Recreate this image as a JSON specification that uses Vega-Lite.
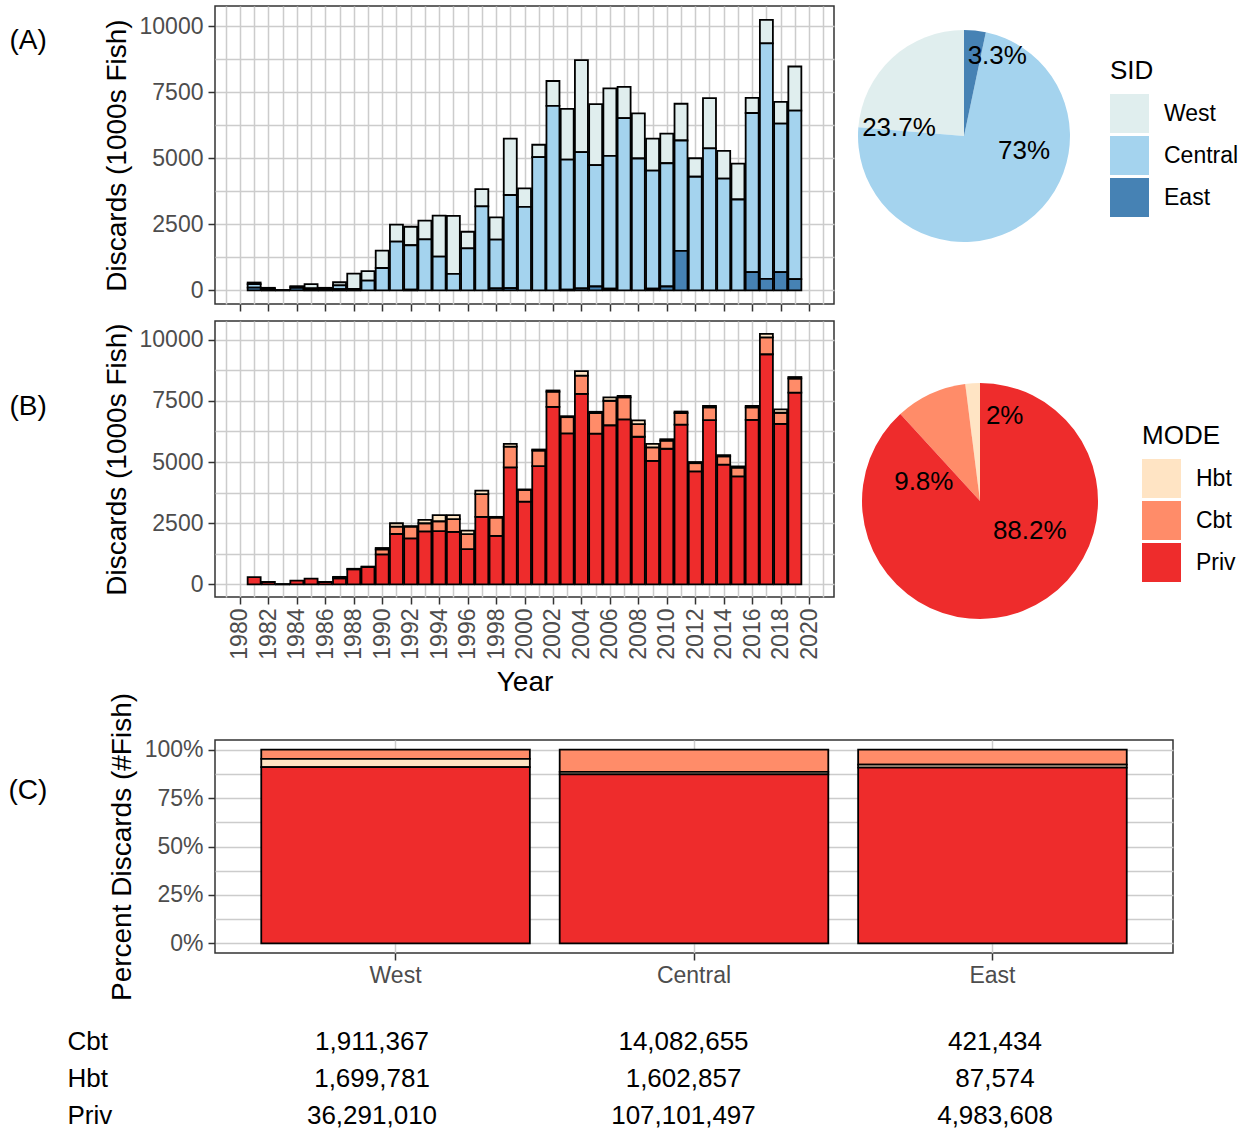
{
  "$schema": "https://vega.github.io/schema/vega-lite/v6.json",
  "background": "white",
  "padding": {"left": 7, "top": 5, "right": 0, "bottom": 0},
  "config": {
    "font": "Liberation Sans",
    "view": {"stroke": "#333333", "strokeWidth": 1.5},
    "axis": {"labelFontSize": 23, "labelColor": "#4d4d4d", "titleFontSize": 28, "titleFontWeight": "normal", "titleColor": "black", "tickColor": "#333333", "tickSize": 7, "tickWidth": 1.5, "domain": false, "gridColor": "#cccccc", "gridWidth": 1.5},
    "legend": {"titleFontSize": 26, "titleFontWeight": "normal", "titleColor": "black", "labelFontSize": 23, "labelColor": "black", "symbolType": "square", "symbolSize": 1521, "symbolStrokeWidth": 0, "rowPadding": 3, "labelOffset": 15, "titlePadding": 10, "padding": 0, "symbolOpacity": 1},
    "title": {"fontSize": 28, "fontWeight": "normal", "color": "black"}
  },
  "datasets": {
    "sid": [
      {"Year":1981,"SID":"West","Discards":60},{"Year":1981,"SID":"Central","Discards":130},{"Year":1981,"SID":"East","Discards":110},
      {"Year":1982,"SID":"West","Discards":30},{"Year":1982,"SID":"Central","Discards":40},{"Year":1982,"SID":"East","Discards":30},
      {"Year":1983,"SID":"Central","Discards":20},
      {"Year":1984,"SID":"West","Discards":20},{"Year":1984,"SID":"Central","Discards":40},{"Year":1984,"SID":"East","Discards":100},
      {"Year":1985,"SID":"West","Discards":160},{"Year":1985,"SID":"Central","Discards":50},{"Year":1985,"SID":"East","Discards":30},
      {"Year":1986,"SID":"West","Discards":40},{"Year":1986,"SID":"Central","Discards":40},{"Year":1986,"SID":"East","Discards":20},
      {"Year":1987,"SID":"West","Discards":120},{"Year":1987,"SID":"Central","Discards":140},{"Year":1987,"SID":"East","Discards":50},
      {"Year":1988,"SID":"West","Discards":580},{"Year":1988,"SID":"Central","Discards":60},
      {"Year":1989,"SID":"West","Discards":360},{"Year":1989,"SID":"Central","Discards":370},
      {"Year":1990,"SID":"West","Discards":660},{"Year":1990,"SID":"Central","Discards":850},
      {"Year":1991,"SID":"West","Discards":640},{"Year":1991,"SID":"Central","Discards":1850},
      {"Year":1992,"SID":"West","Discards":700},{"Year":1992,"SID":"Central","Discards":1680},{"Year":1992,"SID":"East","Discards":30},
      {"Year":1993,"SID":"West","Discards":710},{"Year":1993,"SID":"Central","Discards":1930},
      {"Year":1994,"SID":"West","Discards":1550},{"Year":1994,"SID":"Central","Discards":1280},
      {"Year":1995,"SID":"West","Discards":2190},{"Year":1995,"SID":"Central","Discards":630},
      {"Year":1996,"SID":"West","Discards":630},{"Year":1996,"SID":"Central","Discards":1590},
      {"Year":1997,"SID":"West","Discards":650},{"Year":1997,"SID":"Central","Discards":3180},
      {"Year":1998,"SID":"West","Discards":840},{"Year":1998,"SID":"Central","Discards":1840},{"Year":1998,"SID":"East","Discards":80},
      {"Year":1999,"SID":"West","Discards":2130},{"Year":1999,"SID":"Central","Discards":3520},{"Year":1999,"SID":"East","Discards":90},
      {"Year":2000,"SID":"West","Discards":700},{"Year":2000,"SID":"Central","Discards":3160},
      {"Year":2001,"SID":"West","Discards":470},{"Year":2001,"SID":"Central","Discards":5040},
      {"Year":2002,"SID":"West","Discards":940},{"Year":2002,"SID":"Central","Discards":6980},
      {"Year":2003,"SID":"West","Discards":1920},{"Year":2003,"SID":"Central","Discards":4920},{"Year":2003,"SID":"East","Discards":30},
      {"Year":2004,"SID":"West","Discards":3480},{"Year":2004,"SID":"Central","Discards":5150},{"Year":2004,"SID":"East","Discards":80},
      {"Year":2005,"SID":"West","Discards":2310},{"Year":2005,"SID":"Central","Discards":4590},{"Year":2005,"SID":"East","Discards":150},
      {"Year":2006,"SID":"West","Discards":2550},{"Year":2006,"SID":"Central","Discards":5020},{"Year":2006,"SID":"East","Discards":70},
      {"Year":2007,"SID":"West","Discards":1180},{"Year":2007,"SID":"Central","Discards":6520},
      {"Year":2008,"SID":"West","Discards":1710},{"Year":2008,"SID":"Central","Discards":4990},
      {"Year":2009,"SID":"West","Discards":1210},{"Year":2009,"SID":"Central","Discards":4460},{"Year":2009,"SID":"East","Discards":70},
      {"Year":2010,"SID":"West","Discards":1120},{"Year":2010,"SID":"Central","Discards":4660},{"Year":2010,"SID":"East","Discards":150},
      {"Year":2011,"SID":"West","Discards":1390},{"Year":2011,"SID":"Central","Discards":4170},{"Year":2011,"SID":"East","Discards":1500},
      {"Year":2012,"SID":"West","Discards":700},{"Year":2012,"SID":"Central","Discards":4300},
      {"Year":2013,"SID":"West","Discards":1900},{"Year":2013,"SID":"Central","Discards":5370},
      {"Year":2014,"SID":"West","Discards":1050},{"Year":2014,"SID":"Central","Discards":4230},
      {"Year":2015,"SID":"West","Discards":1360},{"Year":2015,"SID":"Central","Discards":3440},
      {"Year":2016,"SID":"West","Discards":570},{"Year":2016,"SID":"Central","Discards":6020},{"Year":2016,"SID":"East","Discards":690},
      {"Year":2017,"SID":"West","Discards":890},{"Year":2017,"SID":"Central","Discards":8900},{"Year":2017,"SID":"East","Discards":440},
      {"Year":2018,"SID":"West","Discards":820},{"Year":2018,"SID":"Central","Discards":5620},{"Year":2018,"SID":"East","Discards":690},
      {"Year":2019,"SID":"West","Discards":1670},{"Year":2019,"SID":"Central","Discards":6370},{"Year":2019,"SID":"East","Discards":430}
    ],
    "mode": [
      {"Year":1981,"MODE":"Priv","Discards":300},
      {"Year":1982,"MODE":"Priv","Discards":100},
      {"Year":1983,"MODE":"Priv","Discards":20},
      {"Year":1984,"MODE":"Priv","Discards":160},
      {"Year":1985,"MODE":"Priv","Discards":240},
      {"Year":1986,"MODE":"Priv","Discards":100},
      {"Year":1987,"MODE":"Priv","Discards":250},{"Year":1987,"MODE":"Cbt","Discards":30},{"Year":1987,"MODE":"Hbt","Discards":30},
      {"Year":1988,"MODE":"Priv","Discards":620},{"Year":1988,"MODE":"Cbt","Discards":20},
      {"Year":1989,"MODE":"Priv","Discards":710},{"Year":1989,"MODE":"Cbt","Discards":20},
      {"Year":1990,"MODE":"Priv","Discards":1230},{"Year":1990,"MODE":"Cbt","Discards":200},{"Year":1990,"MODE":"Hbt","Discards":60},
      {"Year":1991,"MODE":"Priv","Discards":2060},{"Year":1991,"MODE":"Cbt","Discards":300},{"Year":1991,"MODE":"Hbt","Discards":140},
      {"Year":1992,"MODE":"Priv","Discards":1880},{"Year":1992,"MODE":"Cbt","Discards":480},{"Year":1992,"MODE":"Hbt","Discards":20},
      {"Year":1993,"MODE":"Priv","Discards":2170},{"Year":1993,"MODE":"Cbt","Discards":330},{"Year":1993,"MODE":"Hbt","Discards":140},
      {"Year":1994,"MODE":"Priv","Discards":2180},{"Year":1994,"MODE":"Cbt","Discards":400},{"Year":1994,"MODE":"Hbt","Discards":250},
      {"Year":1995,"MODE":"Priv","Discards":2150},{"Year":1995,"MODE":"Cbt","Discards":520},{"Year":1995,"MODE":"Hbt","Discards":160},
      {"Year":1996,"MODE":"Priv","Discards":1440},{"Year":1996,"MODE":"Cbt","Discards":615},{"Year":1996,"MODE":"Hbt","Discards":140},
      {"Year":1997,"MODE":"Priv","Discards":2760},{"Year":1997,"MODE":"Cbt","Discards":930},{"Year":1997,"MODE":"Hbt","Discards":140},
      {"Year":1998,"MODE":"Priv","Discards":1980},{"Year":1998,"MODE":"Cbt","Discards":750},{"Year":1998,"MODE":"Hbt","Discards":30},
      {"Year":1999,"MODE":"Priv","Discards":4780},{"Year":1999,"MODE":"Cbt","Discards":850},{"Year":1999,"MODE":"Hbt","Discards":110},
      {"Year":2000,"MODE":"Priv","Discards":3380},{"Year":2000,"MODE":"Cbt","Discards":480},{"Year":2000,"MODE":"Hbt","Discards":20},
      {"Year":2001,"MODE":"Priv","Discards":4830},{"Year":2001,"MODE":"Cbt","Discards":640},{"Year":2001,"MODE":"Hbt","Discards":40},
      {"Year":2002,"MODE":"Priv","Discards":7250},{"Year":2002,"MODE":"Cbt","Discards":620},{"Year":2002,"MODE":"Hbt","Discards":50},
      {"Year":2003,"MODE":"Priv","Discards":6170},{"Year":2003,"MODE":"Cbt","Discards":660},{"Year":2003,"MODE":"Hbt","Discards":40},
      {"Year":2004,"MODE":"Priv","Discards":7780},{"Year":2004,"MODE":"Cbt","Discards":750},{"Year":2004,"MODE":"Hbt","Discards":180},
      {"Year":2005,"MODE":"Priv","Discards":6160},{"Year":2005,"MODE":"Cbt","Discards":840},{"Year":2005,"MODE":"Hbt","Discards":50},
      {"Year":2006,"MODE":"Priv","Discards":6500},{"Year":2006,"MODE":"Cbt","Discards":1000},{"Year":2006,"MODE":"Hbt","Discards":140},
      {"Year":2007,"MODE":"Priv","Discards":6740},{"Year":2007,"MODE":"Cbt","Discards":900},{"Year":2007,"MODE":"Hbt","Discards":60},
      {"Year":2008,"MODE":"Priv","Discards":6030},{"Year":2008,"MODE":"Cbt","Discards":520},{"Year":2008,"MODE":"Hbt","Discards":150},
      {"Year":2009,"MODE":"Priv","Discards":5050},{"Year":2009,"MODE":"Cbt","Discards":550},{"Year":2009,"MODE":"Hbt","Discards":140},
      {"Year":2010,"MODE":"Priv","Discards":5540},{"Year":2010,"MODE":"Cbt","Discards":330},{"Year":2010,"MODE":"Hbt","Discards":60},
      {"Year":2011,"MODE":"Priv","Discards":6530},{"Year":2011,"MODE":"Cbt","Discards":470},{"Year":2011,"MODE":"Hbt","Discards":60},
      {"Year":2012,"MODE":"Priv","Discards":4620},{"Year":2012,"MODE":"Cbt","Discards":330},{"Year":2012,"MODE":"Hbt","Discards":50},
      {"Year":2013,"MODE":"Priv","Discards":6710},{"Year":2013,"MODE":"Cbt","Discards":520},{"Year":2013,"MODE":"Hbt","Discards":60},
      {"Year":2014,"MODE":"Priv","Discards":4890},{"Year":2014,"MODE":"Cbt","Discards":340},{"Year":2014,"MODE":"Hbt","Discards":50},
      {"Year":2015,"MODE":"Priv","Discards":4410},{"Year":2015,"MODE":"Cbt","Discards":360},{"Year":2015,"MODE":"Hbt","Discards":50},
      {"Year":2016,"MODE":"Priv","Discards":6720},{"Year":2016,"MODE":"Cbt","Discards":510},{"Year":2016,"MODE":"Hbt","Discards":60},
      {"Year":2017,"MODE":"Priv","Discards":9400},{"Year":2017,"MODE":"Cbt","Discards":690},{"Year":2017,"MODE":"Hbt","Discards":140},
      {"Year":2018,"MODE":"Priv","Discards":6560},{"Year":2018,"MODE":"Cbt","Discards":450},{"Year":2018,"MODE":"Hbt","Discards":140},
      {"Year":2019,"MODE":"Priv","Discards":7830},{"Year":2019,"MODE":"Cbt","Discards":580},{"Year":2019,"MODE":"Hbt","Discards":60}
    ],
    "pieSID": [
      {"SID":"West","share":0.237},{"SID":"Central","share":0.73},{"SID":"East","share":0.033}
    ],
    "pieMODE": [
      {"MODE":"Hbt","share":0.02},{"MODE":"Cbt","share":0.098},{"MODE":"Priv","share":0.882}
    ],
    "totals": [
      {"SID":"West","MODE":"Cbt","n":1911367},{"SID":"West","MODE":"Hbt","n":1699781},{"SID":"West","MODE":"Priv","n":36291010},
      {"SID":"Central","MODE":"Cbt","n":14082655},{"SID":"Central","MODE":"Hbt","n":1602857},{"SID":"Central","MODE":"Priv","n":107101497},
      {"SID":"East","MODE":"Cbt","n":421434},{"SID":"East","MODE":"Hbt","n":87574},{"SID":"East","MODE":"Priv","n":4983608}
    ]
  },
  "resolve": {"scale": {"color": "independent"}, "legend": {"color": "independent"}},
  "align": "none",
  "spacing": -6,
  "vconcat": [
    {
      "spacing": 7,
      "resolve": {"scale": {"color": "independent"}, "legend": {"color": "independent"}},
      "vconcat": [
        {
          "hconcat": [
            {
              "width": 619, "height": 298,
              "title": {"text": "(A)", "orient": "left", "anchor": "end", "angle": 0, "align": "right", "baseline": "top", "offset": 19, "dy": 21},
              "data": {"name": "sid"},
              "transform": [{"calculate": "indexof(['East','Central','West'], datum.SID)", "as": "ord"}],
              "mark": {"type": "bar", "width": 13, "stroke": "black", "strokeWidth": 1.8},
              "encoding": {
                "x": {"field": "Year", "type": "quantitative", "scale": {"domain": [1978.6, 2021.4], "nice": false, "zero": false},
                      "axis": {"title": null, "labels": false, "values": [1979,1980,1981,1982,1983,1984,1985,1986,1987,1988,1989,1990,1991,1992,1993,1994,1995,1996,1997,1998,1999,2000,2001,2002,2003,2004,2005,2006,2007,2008,2009,2010,2011,2012,2013,2014,2015,2016,2017,2018,2019,2020,2021],
                               "tickOpacity": {"condition": {"test": "datum.value % 2 === 0", "value": 1}, "value": 0}}},
                "y": {"field": "Discards", "type": "quantitative", "stack": "zero", "scale": {"domain": [-512, 10757], "nice": false, "zero": false},
                      "axis": {"title": "Discards (1000s Fish)", "titlePadding": 8, "labelPadding": 5, "format": "d", "values": [0,1250,2500,3750,5000,6250,7500,8750,10000],
                               "labelExpr": "datum.value % 2500 === 0 ? datum.label : ''",
                               "tickOpacity": {"condition": {"test": "datum.value % 2500 === 0", "value": 1}, "value": 0}}},
                "color": {"field": "SID", "type": "nominal", "scale": {"domain": ["West","Central","East"], "range": ["#E0EEEE","#A4D3EE","#4682B4"]}, "legend": null},
                "order": {"field": "ord", "type": "quantitative"}
              }
            },
            {
              "width": 212, "height": 260,
              "view": {"stroke": null},
              "data": {"name": "pieSID"},
              "transform": [{"calculate": "indexof(['East','Central','West'], datum.SID)", "as": "ord"}],
              "encoding": {
                "theta": {"field": "share", "type": "quantitative", "stack": true},
                "color": {"field": "SID", "type": "nominal", "scale": {"domain": ["West","Central","East"], "range": ["#E0EEEE","#A4D3EE","#4682B4"]},
                          "legend": {"title": "SID", "orient": "none", "legendX": 252, "legendY": 52}},
                "order": {"field": "ord", "type": "quantitative"}
              },
              "layer": [
                {"mark": {"type": "arc", "outerRadius": 106}},
                {"mark": {"type": "text", "radius": 80, "dx": 25, "dy": 0, "fontSize": 26},
                 "encoding": {"text": {"field": "share", "type": "quantitative", "format": ".3~%"}, "color": {"value": "black"},
                              "opacity": {"condition": {"test": "datum.SID === 'East'", "value": 1}, "value": 0}}},
                {"mark": {"type": "text", "radius": 62, "dx": 23, "dy": -35, "fontSize": 26},
                 "encoding": {"text": {"field": "share", "type": "quantitative", "format": ".3~%"}, "color": {"value": "black"},
                              "opacity": {"condition": {"test": "datum.SID === 'Central'", "value": 1}, "value": 0}}},
                {"mark": {"type": "text", "radius": 62, "dx": -23, "dy": 38, "fontSize": 26},
                 "encoding": {"text": {"field": "share", "type": "quantitative", "format": ".3~%"}, "color": {"value": "black"},
                              "opacity": {"condition": {"test": "datum.SID === 'West'", "value": 1}, "value": 0}}}
              ]
            }
          ],
          "spacing": 24,
          "bounds": "flush",
          "resolve": {"scale": {"color": "independent"}, "legend": {"color": "independent"}}
        },
        {
          "hconcat": [
            {
              "width": 619, "height": 276,
              "title": {"text": "(B)", "orient": "left", "anchor": "end", "angle": 0, "align": "right", "baseline": "top", "offset": 19, "dy": 72},
              "data": {"name": "mode"},
              "transform": [{"calculate": "indexof(['Priv','Cbt','Hbt'], datum.MODE)", "as": "ord"}],
              "mark": {"type": "bar", "width": 13, "stroke": "black", "strokeWidth": 1.8},
              "encoding": {
                "x": {"field": "Year", "type": "quantitative", "scale": {"domain": [1978.6, 2021.4], "nice": false, "zero": false},
                      "axis": {"title": "Year", "titlePadding": 9, "labelAngle": 270, "labelPadding": 4, "format": "d", "values": [1979,1980,1981,1982,1983,1984,1985,1986,1987,1988,1989,1990,1991,1992,1993,1994,1995,1996,1997,1998,1999,2000,2001,2002,2003,2004,2005,2006,2007,2008,2009,2010,2011,2012,2013,2014,2015,2016,2017,2018,2019,2020,2021],
                               "labelExpr": "datum.value % 2 === 0 ? datum.label : ''",
                               "tickOpacity": {"condition": {"test": "datum.value % 2 === 0", "value": 1}, "value": 0}}},
                "y": {"field": "Discards", "type": "quantitative", "stack": "zero", "scale": {"domain": [-512, 10757], "nice": false, "zero": false},
                      "axis": {"title": "Discards (1000s Fish)", "titlePadding": 8, "labelPadding": 5, "format": "d", "values": [0,1250,2500,3750,5000,6250,7500,8750,10000],
                               "labelExpr": "datum.value % 2500 === 0 ? datum.label : ''",
                               "tickOpacity": {"condition": {"test": "datum.value % 2500 === 0", "value": 1}, "value": 0}}},
                "color": {"field": "MODE", "type": "nominal", "scale": {"domain": ["Hbt","Cbt","Priv"], "range": ["#FFE4C4","#FF8C69","#EE2C2C"]}, "legend": null},
                "order": {"field": "ord", "type": "quantitative"}
              }
            },
            {
              "width": 236, "height": 360,
              "view": {"stroke": null},
              "data": {"name": "pieMODE"},
              "transform": [{"calculate": "indexof(['Priv','Cbt','Hbt'], datum.MODE)", "as": "ord"}],
              "encoding": {
                "theta": {"field": "share", "type": "quantitative", "stack": true},
                "color": {"field": "MODE", "type": "nominal", "scale": {"domain": ["Hbt","Cbt","Priv"], "range": ["#FFE4C4","#FF8C69","#EE2C2C"]},
                          "legend": {"title": "MODE", "orient": "none", "legendX": 280, "legendY": 102}},
                "order": {"field": "ord", "type": "quantitative"}
              },
              "layer": [
                {"mark": {"type": "arc", "outerRadius": 118}},
                {"mark": {"type": "text", "radius": 85, "dx": 30, "dy": 0, "fontSize": 26},
                 "encoding": {"text": {"field": "share", "type": "quantitative", "format": ".3~%"}, "color": {"value": "black"},
                              "opacity": {"condition": {"test": "datum.MODE === 'Hbt'", "value": 1}, "value": 0}}},
                {"mark": {"type": "text", "radius": 60, "dx": -31, "dy": 35, "fontSize": 26},
                 "encoding": {"text": {"field": "share", "type": "quantitative", "format": ".3~%"}, "color": {"value": "black"},
                              "opacity": {"condition": {"test": "datum.MODE === 'Cbt'", "value": 1}, "value": 0}}},
                {"mark": {"type": "text", "radius": 60, "dx": 28, "dy": -26, "fontSize": 26},
                 "encoding": {"text": {"field": "share", "type": "quantitative", "format": ".3~%"}, "color": {"value": "black"},
                              "opacity": {"condition": {"test": "datum.MODE === 'Priv'", "value": 1}, "value": 0}}}
              ]
            }
          ],
          "spacing": 28,
          "bounds": "flush",
          "resolve": {"scale": {"color": "independent"}, "legend": {"color": "independent"}}
        }
      ]
    },
    {
      "spacing": 70,
      "bounds": "flush",
      "resolve": {"scale": {"color": "independent"}, "legend": {"color": "independent"}},
      "vconcat": [
        {
          "width": 958, "height": 213,
          "title": {"text": "(C)", "orient": "left", "anchor": "end", "angle": 0, "align": "right", "baseline": "top", "offset": 22, "dy": 85},
          "data": {"name": "totals"},
          "transform": [{"calculate": "indexof(['Priv','Hbt','Cbt'], datum.MODE)", "as": "ord"}],
          "mark": {"type": "bar", "stroke": "black", "strokeWidth": 1.8},
          "encoding": {
            "x": {"field": "SID", "type": "nominal", "sort": ["West","Central","East"], "scale": {"paddingInner": 0.1, "paddingOuter": 0.155},
                  "axis": {"title": null, "labelAngle": 0, "grid": true, "labelPadding": 4, "bandPosition": 0.5}},
            "y": {"field": "n", "type": "quantitative", "stack": "normalize", "scale": {"domain": [-0.05, 1.05], "nice": false, "zero": false},
                  "axis": {"title": "Percent Discards (#Fish)", "titlePadding": 8, "labelPadding": 5, "format": ".0%", "values": [0,0.125,0.25,0.375,0.5,0.625,0.75,0.875,1],
                           "labelExpr": "(datum.value * 100) % 25 === 0 ? datum.label : ''",
                           "tickOpacity": {"condition": {"test": "(datum.value * 100) % 25 === 0", "value": 1}, "value": 0}}},
            "color": {"field": "MODE", "type": "nominal", "scale": {"domain": ["Hbt","Cbt","Priv"], "range": ["#FFE4C4","#FF8C69","#EE2C2C"]}, "legend": null},
            "order": {"field": "ord", "type": "quantitative"}
          }
        },
        {
          "width": 937, "height": 111,
          "view": {"stroke": null},
          "data": {"name": "totals"},
          "mark": {"type": "text", "fontSize": 26, "color": "black"},
          "encoding": {
            "x": {"field": "SID", "type": "nominal", "sort": ["West","Central","East"], "scale": {"type": "point", "padding": 0.504}, "axis": null},
            "y": {"field": "MODE", "type": "nominal", "sort": ["Cbt","Hbt","Priv"],
                  "axis": {"title": null, "grid": false, "ticks": false, "tickSize": 0, "labelAlign": "left", "labelPadding": 148, "labelFontSize": 26, "labelColor": "black"}},
            "text": {"field": "n", "type": "quantitative", "format": ","}
          }
        }
      ]
    }
  ]
}
